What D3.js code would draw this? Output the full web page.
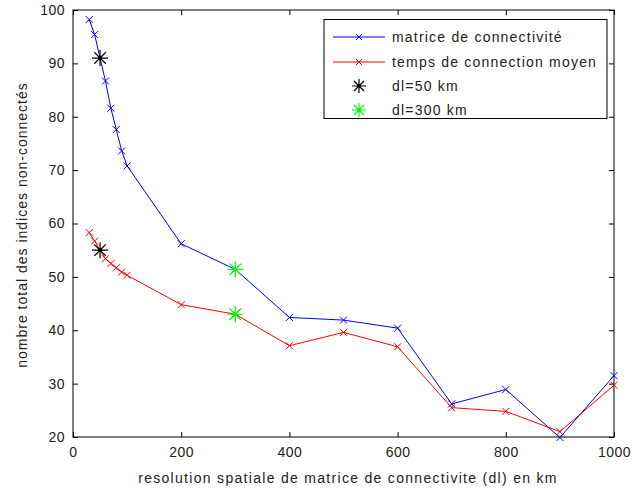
<!DOCTYPE html>
<html>
<head>
<meta charset="utf-8">
<script src="https://cdn.jsdelivr.net/npm/d3@7"></script>
<style>
  body { margin: 0; background: #fff; }
  text { font-family: "Liberation Sans", Arial, sans-serif; fill: #222; }
</style>
</head>
<body>
<div id="chart"></div>
<script>
const resolution = [30, 40, 50, 60, 70, 80, 90, 100, 200, 300, 400, 500, 600, 700, 800, 900, 1000];
const matrice = [98.2, 95.4, 91, 86.7, 81.6, 77.6, 73.6, 70.8, 56.2, 51.4, 42.4, 41.9, 40.4, 26.2, 28.9, 19.9, 31.5];
const temps   = [58.3, 56.7, 55.0, 53.4, 52.5, 51.7, 50.9, 50.3, 44.8, 43.0, 37.1, 39.6, 36.9, 25.5, 24.8, 21.0, 29.7];
const starsBlack = [{x: 50, y: 91}, {x: 50, y: 55}];
const starsGreen = [{x: 300, y: 51.4}, {x: 300, y: 43.0}];
const xTicks = [0, 200, 400, 600, 800, 1000];
const yTicks = [20, 30, 40, 50, 60, 70, 80, 90, 100];
const legendLabels = ['matrice de connectivité', 'temps de connection moyen', 'dl=50 km', 'dl=300 km'];

const width = 633, height = 490;
const margin = {top: 10, right: 19, bottom: 53, left: 73};

const svg = d3.select('#chart').append('svg')
  .attr('width', width)
  .attr('height', height);

const x = d3.scaleLinear().domain([0, 1000]).range([margin.left, width - margin.right]);
const y = d3.scaleLinear().domain([20, 100]).range([height - margin.bottom, margin.top]);

// frame
svg.append('rect')
  .attr('x', x(0)).attr('y', y(100))
  .attr('width', x(1000) - x(0)).attr('height', y(20) - y(100))
  .attr('fill', 'none').attr('stroke', '#000').attr('stroke-width', 1);

// axes, ticks pointing inward
const xAxis = svg.append('g').attr('transform', `translate(0,${y(20)})`)
  .call(d3.axisBottom(x).tickValues(xTicks).tickSize(-5).tickPadding(10).tickFormat(d3.format('d')));
const xTop = svg.append('g').attr('transform', `translate(0,${y(100)})`)
  .call(d3.axisTop(x).tickValues(xTicks).tickSize(-5).tickFormat(''));
const yAxis = svg.append('g').attr('transform', `translate(${x(0)},0)`)
  .call(d3.axisLeft(y).tickValues(yTicks).tickSize(-5).tickPadding(8).tickFormat(d3.format('d')));
const yRight = svg.append('g').attr('transform', `translate(${x(1000)},0)`)
  .call(d3.axisRight(y).tickValues(yTicks).tickSize(-5).tickFormat(''));

[xAxis, xTop, yAxis, yRight].forEach(g => {
  g.select('.domain').remove();
  g.selectAll('line').attr('stroke', '#000');
  g.selectAll('text').style('font-size', '14px').style('letter-spacing', '0.5px').attr('fill', '#222');
});

// axis titles
svg.append('text')
  .attr('x', 348).attr('y', 483)
  .attr('text-anchor', 'middle').style('font-size', '14px').style('letter-spacing', '1.3px')
  .text('resolution spatiale de matrice de connectivite (dl) en km');
svg.append('text')
  .attr('transform', `translate(27,${225}) rotate(-90)`)
  .attr('text-anchor', 'middle').style('font-size', '14px').style('letter-spacing', '1px')
  .text('nombre total des indices non-connectés');

const line = d3.line().x(d => x(d[0])).y(d => y(d[1]));

function cross(g, cx, cy, r, color) {
  g.append('path')
    .attr('d', `M${cx - r},${cy - r}L${cx + r},${cy + r}M${cx - r},${cy + r}L${cx + r},${cy - r}`)
    .attr('stroke', color).attr('stroke-width', 1).attr('fill', 'none');
}
function star(g, cx, cy, r, color) {
  const d = r * 0.72;
  g.append('path')
    .attr('d', `M${cx - r},${cy}L${cx + r},${cy}M${cx},${cy - r}L${cx},${cy + r}` +
               `M${cx - d},${cy - d}L${cx + d},${cy + d}M${cx - d},${cy + d}L${cx + d},${cy - d}`)
    .attr('stroke', color).attr('stroke-width', 1.2).attr('fill', 'none');
  g.append('circle').attr('cx', cx).attr('cy', cy).attr('r', 2).attr('fill', color);
}

const series = [
  {values: matrice, color: '#0000ff'},
  {values: temps, color: '#ff0000'}
];

series.forEach(s => {
  const pts = resolution.map((r, i) => [r, s.values[i]]);
  svg.append('path').datum(pts)
    .attr('d', line).attr('fill', 'none')
    .attr('stroke', s.color).attr('stroke-width', 1);
  const g = svg.append('g');
  pts.forEach(p => cross(g, x(p[0]), y(p[1]), 3.5, s.color));
});

const sg = svg.append('g');
starsBlack.forEach(p => star(sg, x(p.x), y(p.y), 8, '#000'));
starsGreen.forEach(p => star(sg, x(p.x), y(p.y), 8, '#00ff00'));

// legend
const lg = svg.append('g');
lg.append('rect')
  .attr('x', 324).attr('y', 19.5).attr('width', 283).attr('height', 99)
  .attr('fill', '#fff').attr('stroke', '#000').attr('stroke-width', 1);
const rowsY = [37, 62, 86, 110];
const legendColors = ['#0000ff', '#ff0000', '#000', '#00ff00'];
legendLabels.forEach((lab, i) => {
  const cy = rowsY[i];
  if (i < 2) {
    lg.append('line').attr('x1', 333).attr('x2', 385).attr('y1', cy).attr('y2', cy)
      .attr('stroke', legendColors[i]).attr('stroke-width', 1);
    cross(lg, 359, cy, 3, legendColors[i]);
  } else {
    star(lg, 359, cy, 7, legendColors[i]);
  }
  lg.append('text').attr('x', 392).attr('y', cy + 5)
    .style('font-size', '14px').style('letter-spacing', '1.2px').text(lab);
});
</script>
</body>
</html>
